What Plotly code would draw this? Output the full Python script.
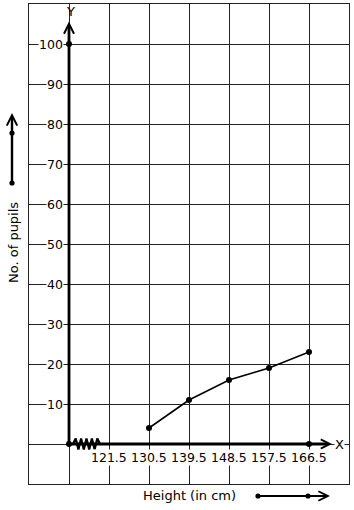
import plotly.graph_objects as go

# ---- data ----
heights = [130.5, 139.5, 148.5, 157.5, 166.5]
pupils = [4, 11, 16, 19, 23]
x_tick_vals = [121.5, 130.5, 139.5, 148.5, 157.5, 166.5]
x_tick_text = ["121.5", "130.5", "139.5", "148.5", "157.5", "166.5"]
y_tick_vals = [10, 20, 30, 40, 50, 60, 70, 80, 90, 100]
y_tick_text = [str(v) for v in y_tick_vals]
x_title = "Height (in cm)"
y_title = "No. of pupils"

# ---- geometry ----
step = 9.0
origin_x = x_tick_vals[0] - step          # 112.5 (broken axis origin)
x_range = [origin_x - step, x_tick_vals[-1] + step]
y_range = [-10, 110]
W, H = 354, 510
ml, mr, mt, mb = 29, 5, 4, 26
px_per_x = (W - ml - mr) / (x_range[1] - x_range[0])
px_per_y = (H - mt - mb) / (y_range[1] - y_range[0])

FONT = "DejaVu Sans"
GRID = "#222222"

fig = go.Figure()

# zigzag (kink) on x axis near origin
zz_start = origin_x + 4 / px_per_x
zz_end = origin_x + 31 / px_per_x
n_half = 10
amp = 5.5 / px_per_y
zx = [zz_start + (zz_end - zz_start) * i / n_half for i in range(n_half + 1)]
zy = [0] + [(amp if i % 2 else -amp) for i in range(1, n_half)] + [0]
fig.add_trace(go.Scatter(x=zx, y=zy, mode="lines",
                         line=dict(color="black", width=2.2),
                         hoverinfo="skip", showlegend=False, cliponaxis=False))

# data polyline
fig.add_trace(go.Scatter(x=heights, y=pupils, mode="lines+markers",
                         line=dict(color="black", width=1.6),
                         marker=dict(color="black", size=6),
                         showlegend=False, cliponaxis=False))

# axis points
fig.add_trace(go.Scatter(x=[origin_x, origin_x, heights[-1]], y=[0, 100, 0],
                         mode="markers", marker=dict(color="black", size=6),
                         showlegend=False, cliponaxis=False))

annotations = []
# thick axes with arrowheads
y_tip = 105.6
x_tip = origin_x + (332 - 69) / px_per_x
annotations.append(dict(x=origin_x, y=y_tip, ax=origin_x, ay=0, xref="x", yref="y",
                        axref="x", ayref="y", text="", showarrow=True,
                        arrowhead=5, arrowwidth=2.8, arrowsize=0.7, arrowcolor="black"))
annotations.append(dict(x=x_tip, y=0, ax=origin_x, ay=0, xref="x", yref="y",
                        axref="x", ayref="y", text="", showarrow=True,
                        arrowhead=5, arrowwidth=2.8, arrowsize=0.65, arrowcolor="black"))
annotations.append(dict(x=origin_x + 1.7 / px_per_x, y=(444 - 11) / px_per_y, xref="x", yref="y",
                        text="Y", xanchor="center", yanchor="middle",
                        showarrow=False, font=dict(family=FONT, size=13, color="black")))
annotations.append(dict(x=origin_x + 270 / px_per_x, y=0, xref="x", yref="y", text="X",
                        xanchor="center", yanchor="middle",
                        showarrow=False, bgcolor="white", borderpad=0,
                        font=dict(family=FONT, size=13, color="black")))

# y tick labels with white background
for v, t in zip(y_tick_vals, y_tick_text):
    annotations.append(dict(x=origin_x - 5 / px_per_x, y=v, xref="x", yref="y", text=t,
                            xanchor="right", yanchor="middle", showarrow=False,
                            bgcolor="white", borderpad=0,
                            font=dict(family=FONT, size=12.5, color="black")))
# x tick labels
for v, t in zip(x_tick_vals, x_tick_text):
    annotations.append(dict(x=v, y=-13 / px_per_y, xref="x", yref="y", text=t,
                            xanchor="center", yanchor="middle", showarrow=False,
                            bgcolor="white", borderpad=0,
                            font=dict(family=FONT, size=12.5, color="black")))

# axis titles
def paper_x(px):
    return (px - ml) / (W - ml - mr)

def paper_y(py):
    return (H - mb - py) / (H - mt - mb)

annotations.append(dict(x=paper_x(13), y=paper_y(243), xref="paper", yref="paper",
                        xanchor="center", yanchor="middle",
                        text=y_title, textangle=-90, showarrow=False,
                        font=dict(family=FONT, size=13, color="black")))
annotations.append(dict(x=paper_x(189), y=paper_y(496), xref="paper", yref="paper",
                        xanchor="center", yanchor="middle",
                        text=x_title, showarrow=False,
                        font=dict(family=FONT, size=13, color="black")))

# side arrows
annotations.append(dict(x=paper_x(12), y=paper_y(113), xref="paper", yref="paper",
                        ax=0, ay=70, axref="pixel", ayref="pixel", text="", showarrow=True,
                        arrowhead=5, arrowwidth=2.4, arrowsize=0.85, arrowcolor="black"))
annotations.append(dict(x=paper_x(330), y=paper_y(496), xref="paper", yref="paper",
                        ax=-72, ay=0, axref="pixel", ayref="pixel", text="", showarrow=True,
                        arrowhead=5, arrowwidth=2.2, arrowsize=0.85, arrowcolor="black"))

shapes = []
for (px, py) in [(12, 183), (12, 133), (258, 496), (308, 496)]:
    shapes.append(dict(type="circle", xref="paper", yref="paper",
                       xsizemode="pixel", ysizemode="pixel",
                       xanchor=paper_x(px), yanchor=paper_y(py),
                       x0=-2.6, x1=2.6, y0=-2.6, y1=2.6,
                       fillcolor="black", line=dict(color="black", width=0)))

fig.update_layout(
    width=W, height=H,
    margin=dict(l=ml, r=mr, t=mt, b=mb, pad=0),
    plot_bgcolor="white", paper_bgcolor="white",
    annotations=annotations, shapes=shapes,
    xaxis=dict(range=x_range, tick0=x_range[0], dtick=step, showgrid=True,
               gridcolor=GRID, gridwidth=1, showticklabels=False, ticks="",
               zeroline=False, showline=True, mirror=True, linecolor=GRID, linewidth=1,
               fixedrange=True),
    yaxis=dict(range=y_range, tick0=0, dtick=10, showgrid=True,
               gridcolor=GRID, gridwidth=1, showticklabels=False, ticks="",
               zeroline=False, showline=True, mirror=True, linecolor=GRID, linewidth=1,
               fixedrange=True),
    showlegend=False,
)

fig.write_html("out.html", config={"displayModeBar": False})
